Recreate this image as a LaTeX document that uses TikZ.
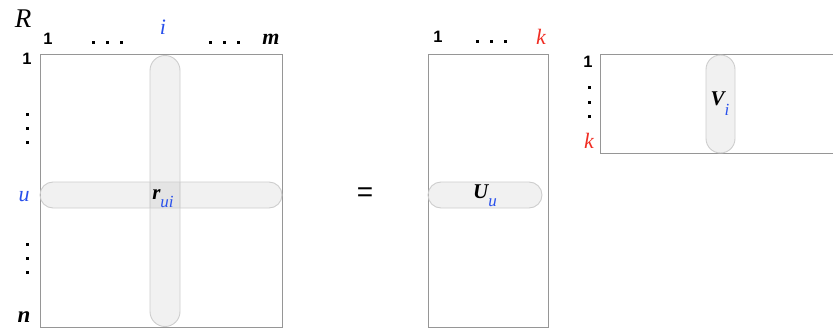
\documentclass[tikz,border=0pt]{standalone}
\usepackage{fontspec}
\setmainfont{Liberation Serif}
\newfontfamily\numfont{Liberation Sans}
\definecolor{idxblue}{RGB}{40,80,235}
\definecolor{idxred}{RGB}{240,45,35}
\definecolor{boxgray}{RGB}{150,150,150}
\definecolor{barline}{RGB}{205,205,205}
\newcommand{\subidx}[3]{\raisebox{-#3}{\textcolor{#1}{\normalfont\itshape\fontsize{17}{17}\selectfont #2}}}
\begin{document}
\begin{tikzpicture}[x=1pt,y=-1pt,
  matbox/.style={draw=boxgray,line width=0.9pt,inner sep=0pt},
  bar/.style={draw=barline,line width=0.9pt,fill=black,fill opacity=0.055,text opacity=1,inner sep=0pt},
  num/.style={font=\numfont\bfseries\fontsize{16.5}{16.5}\selectfont,inner sep=0pt,anchor=base},
  var/.style={font=\itshape\bfseries\fontsize{21}{21}\selectfont,inner sep=0pt,anchor=base},
  lbl/.style={font=\itshape\fontsize{22}{22}\selectfont,inner sep=0pt,anchor=base},
  dot/.style={fill=black}
]
\useasboundingbox (0,0) rectangle (833,329);
% R matrix
\node[matbox,minimum width=242pt,minimum height=273pt] (R) at (161,190.5) {};
\node[bar,rounded corners=15pt,minimum width=30pt,minimum height=271pt] (col) at (165,191) {};
\node[bar,rounded corners=13pt,minimum width=242pt,minimum height=26pt] (row) at (161,195) {};
\node[var] (rui) at (163,199) {r\subidx{idxblue}{ui}{8pt}};
\node[font=\itshape\fontsize{27}{27}\selectfont,inner sep=0pt,anchor=base] (Rl) at (23,28) {R};
\node[num] (c1) at (48,45) {1};
\node[lbl,text=idxblue] (ci) at (163,35) {i};
\node[lbl,font=\itshape\bfseries\fontsize{22}{22}\selectfont] (cm) at (271,45) {m};
\node[num] (r1) at (27,65) {1};
\node[lbl,text=idxblue] (ru) at (24,201) {u};
\node[lbl,font=\itshape\bfseries\fontsize{23}{23}\selectfont] (rn) at (24,322) {n};
\foreach \x in {93,107,121,210,224,238} \fill[dot] (\x-1.5,41.5) rectangle ++(3,3);
\foreach \y in {114,128,142,244,258,272} \fill[dot] (25.5,\y-1.5) rectangle ++(3,3);
% equals
\node[font=\numfont\fontsize{28}{28}\selectfont,inner sep=0pt] (eq) at (365,195) {=};
% U matrix
\node[matbox,minimum width=120pt,minimum height=273pt] (U) at (488,190.5) {};
\node[bar,rounded corners=13pt,minimum width=114pt,minimum height=26pt] (urow) at (485,195) {};
\node[var] (uu) at (485,198) {U\subidx{idxblue}{u}{8pt}};
\node[num] (uc1) at (438,43) {1};
\node[lbl,text=idxred] (uk) at (541,45) {k};
\foreach \x in {477,491,505} \fill[dot] (\x-1.5,40.5) rectangle ++(3,3);
% V matrix
\node[matbox,minimum width=250pt,minimum height=99pt] (V) at (725,103.5) {};
\node[bar,rounded corners=14.5pt,minimum width=29pt,minimum height=98pt] (vcol) at (720.5,104) {};
\node[var] (vi) at (720,105) {V\subidx{idxblue}{i}{10pt}};
\node[num] (v1) at (588,68) {1};
\node[lbl,text=idxred] (vk) at (589,148) {k};
\foreach \y in {88,102,116} \fill[dot] (587.5,\y-1.5) rectangle ++(3,3);
\end{tikzpicture}
\end{document}
